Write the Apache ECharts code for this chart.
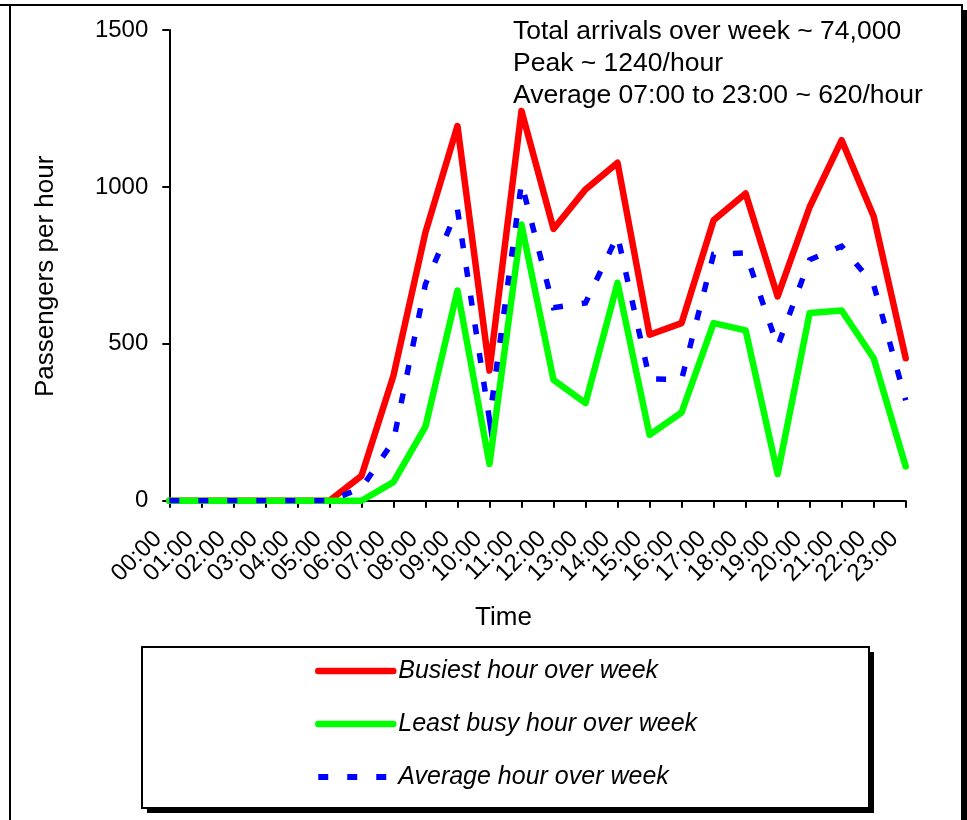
<!DOCTYPE html>
<html>
<head>
<meta charset="utf-8">
<script src="https://cdn.jsdelivr.net/npm/echarts@6/dist/echarts.min.js"></script>
<style>
html,body{margin:0;padding:0;background:#fff;}
#chart{width:967px;height:820px;}
</style>
</head>
<body>
<div id="chart"></div>
<script>
var hours = ['00:00','01:00','02:00','03:00','04:00','05:00','06:00','07:00','08:00','09:00','10:00','11:00',
             '12:00','13:00','14:00','15:00','16:00','17:00','18:00','19:00','20:00','21:00','22:00','23:00'];
var busiest = [0,0,0,0,0,0,79,398,855,1194,415,1242,866,992,1077,529,566,894,979,651,936,1149,906,454];
var leastBusy = [0,0,0,0,0,0,0,59,236,670,117,880,385,311,694,210,281,566,543,85,598,606,454,109];
var average = [0,0,0,0,0,0,40,190,690,928,258,1013,615,630,845,388,386,785,790,492,768,811,688,320];
var yTicks = [0,500,1000,1500];
var seriesNames = ['Busiest hour over week','Least busy hour over week','Average hour over week'];
var noteLines = ['Total arrivals over week ~ 74,000','Peak ~ 1240/hour','Average 07:00 to 23:00 ~ 620/hour'];
var xName = 'Time';
var yName = 'Passengers per hour';

var FONT = '"Liberation Sans", Arial, Helvetica, sans-serif';
var chart = echarts.init(document.getElementById('chart'), null, {renderer:'canvas'});

var option = {
  backgroundColor: '#ffffff',
  animation: false,
  textStyle: {fontFamily: FONT, color: '#000'},
  title: {
    text: noteLines.join('\n'),
    left: 513, top: 16, padding: 0,
    textStyle: {fontFamily: FONT, fontSize: 26.5, fontWeight: 'normal', color: '#000', lineHeight: 31.7}
  },
  grid: {left: 169.3, right: 61.3, top: 30, bottom: 319.3, containLabel: false, outerBoundsMode: 'none'},
  graphic: [
    {type: 'line', shape: {x1: 0, y1: 5, x2: 963, y2: 5}, style: {stroke: '#000', lineWidth: 2}, z: 0},
    {type: 'line', shape: {x1: 10, y1: 5, x2: 10, y2: 820}, style: {stroke: '#000', lineWidth: 2}, z: 0},
    {type: 'line', shape: {x1: 962, y1: 5, x2: 962, y2: 820}, style: {stroke: '#000', lineWidth: 2}, z: 0},
    {type: 'rect', shape: {x: 963, y: 10, width: 4, height: 810}, style: {fill: '#000'}, z: 0},
    {type: 'rect', shape: {x: 147, y: 652, width: 727, height: 161}, style: {fill: '#000'}, z: 1},
    {type: 'rect', shape: {x: 142, y: 647, width: 727, height: 161}, style: {fill: '#fff', stroke: '#000', lineWidth: 2}, z: 2}
  ],
  legend: {
    orient: 'vertical',
    left: 315, top: 658.5, padding: 0,
    itemWidth: 75, itemHeight: 25, itemGap: 28,
    z: 10,
    textStyle: {fontFamily: FONT, fontSize: 25, fontStyle: 'italic', color: '#000'},
    itemStyle: {opacity: 0},
    lineStyle: {width: 6},
    data: [
      {name: seriesNames[0], lineStyle: {width: 6.5, cap: 'round', type: 'solid', color: '#ff0000'}},
      {name: seriesNames[1], lineStyle: {width: 6.5, cap: 'round', type: 'solid', color: '#00ff00'}},
      {name: seriesNames[2], lineStyle: {width: 6, cap: 'butt', type: [10,19], dashOffset: 0, color: '#0000ff'}}
    ]
  },
  xAxis: {
    type: 'category', data: hours, boundaryGap: false,
    name: xName, nameLocation: 'middle', nameGap: 104,
    nameTextStyle: {fontFamily: FONT, fontSize: 26, color: '#000', padding: [0, 68, 0, 0]},
    axisLine: {show: true, lineStyle: {color: '#000', width: 2}},
    axisTick: {show: true, length: 7, interval: 0, lineStyle: {color: '#000', width: 2}},
    axisLabel: {interval: 0, rotate: 45, margin: 23, padding: [0, 16, 0, 0], fontFamily: FONT, fontSize: 24, color: '#000', hideOverlap: false},
    splitLine: {show: false}
  },
  yAxis: {
    type: 'value', min: yTicks[0], max: yTicks[yTicks.length-1], interval: yTicks[1]-yTicks[0],
    name: yName, nameLocation: 'middle', nameGap: 110,
    nameTextStyle: {fontFamily: FONT, fontSize: 26, color: '#000', padding: [0, 22, 0, 0]},
    axisLine: {show: true, lineStyle: {color: '#000', width: 2}},
    axisTick: {show: true, length: 7, lineStyle: {color: '#000', width: 2}},
    axisLabel: {margin: 21, fontFamily: FONT, fontSize: 24, color: '#000', formatter: function (v) { return String(v); }},
    splitLine: {show: false}
  },
  series: [
    {name: seriesNames[0], type: 'line', data: busiest, symbol: 'none', z: 3,
     itemStyle: {color: '#ff0000'},
     lineStyle: {color: '#ff0000', width: 6.5, join: 'round', cap: 'round'}},
    {name: seriesNames[1], type: 'line', data: leastBusy, symbol: 'none', z: 4,
     itemStyle: {color: '#00ff00'},
     lineStyle: {color: '#00ff00', width: 6.5, join: 'round', cap: 'round'}},
    {name: seriesNames[2], type: 'line', data: average, symbol: 'none', z: 5,
     itemStyle: {color: '#0000ff'},
     lineStyle: {color: '#0000ff', width: 5.5, type: [10,19], cap: 'butt', join: 'miter'}}
  ]
};
chart.setOption(option);
</script>
</body>
</html>
